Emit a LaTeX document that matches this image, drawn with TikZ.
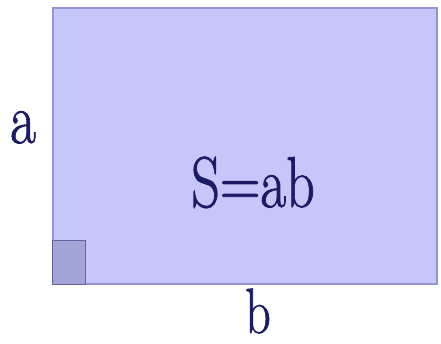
\documentclass[tikz,border=0pt]{standalone}
\usepackage{fontspec}
\newfontfamily\heavy{Latin Modern Roman}[FakeBold=1.2]
\definecolor{rectfill}{HTML}{C6C6F8}
\definecolor{rectline}{HTML}{9494D4}
\definecolor{sqfill}{HTML}{A4A4D6}
\definecolor{sqline}{HTML}{6464A4}
\definecolor{txt}{HTML}{1C1C66}
\begin{document}
\begin{tikzpicture}[x=1pt,y=1pt,
  lbl/.style={inner sep=0pt,anchor=base,text=txt}]
\useasboundingbox (0,0) rectangle (441,344);
\fill[white] (0,0) rectangle (441,344);
\node[draw=rectline,line width=1.5pt,fill=rectfill,minimum width=384pt,minimum height=276pt,inner sep=0pt,anchor=south west] (rect) at (52,59) {};
\node[draw=sqline,line width=1.2pt,fill=sqfill,minimum width=33pt,minimum height=44pt,inner sep=0pt,anchor=south west] (sq) at (52,59) {};
\node[lbl] (area) at (253,137) {\scalebox{0.78}[1]{\heavy\fontsize{72}{72}\selectfont S=ab}};
\node[lbl] (a) at (23,201) {\scalebox{0.78}[1]{\heavy\fontsize{72}{72}\selectfont a}};
\node[lbl] (b) at (258,11) {\scalebox{0.78}[1]{\heavy\fontsize{64}{64}\selectfont b}};
\end{tikzpicture}
\end{document}
